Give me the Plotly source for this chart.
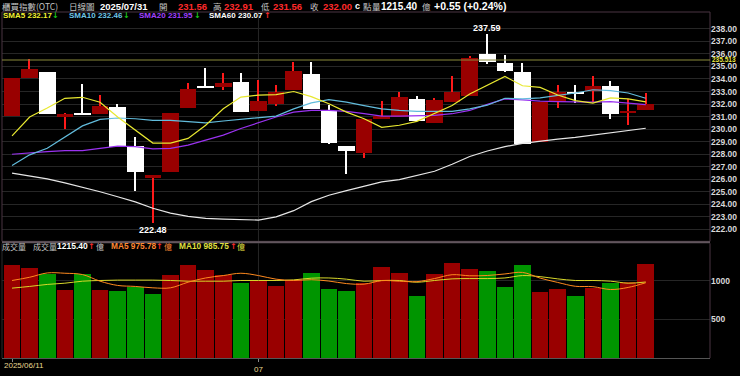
import plotly.graph_objects as go
from plotly.subplots import make_subplots

# ---------------- data ----------------
dates = ["2025/06/11", "2025/06/12", "2025/06/13", "2025/06/16", "2025/06/17", "2025/06/18",
         "2025/06/19", "2025/06/20", "2025/06/23", "2025/06/24", "2025/06/25", "2025/06/26",
         "2025/06/27", "2025/06/30", "2025/07/01", "2025/07/02", "2025/07/03", "2025/07/04",
         "2025/07/07", "2025/07/08", "2025/07/09", "2025/07/10", "2025/07/11", "2025/07/14",
         "2025/07/15", "2025/07/16", "2025/07/17", "2025/07/18", "2025/07/21", "2025/07/22",
         "2025/07/23", "2025/07/24", "2025/07/25", "2025/07/28", "2025/07/29", "2025/07/30",
         "2025/07/31"]

opens = [231.02, 234.04, 234.56, 231.00, 231.25, 231.20, 231.76, 228.63, 226.10, 226.60,
         231.68, 233.35, 233.35, 233.72, 231.41, 232.00, 233.14, 234.43, 231.41, 228.68,
         228.08, 230.78, 230.97, 232.41, 230.52, 232.20, 232.62, 236.03, 235.24, 234.59,
         229.00, 232.15, 232.94, 233.07, 233.41, 231.36, 231.56]
highs = [234.10, 235.56, 234.56, 231.30, 233.60, 232.72, 232.00, 229.40, 226.35, 231.31,
         233.67, 234.90, 234.46, 234.46, 233.93, 233.51, 235.37, 235.37, 231.94, 228.68,
         230.83, 232.28, 233.00, 232.67, 232.46, 234.20, 235.87, 237.59, 235.95, 235.30,
         232.15, 233.51, 233.54, 234.20, 233.85, 232.41, 232.91]
lows = [231.02, 234.04, 231.17, 230.00, 231.15, 231.20, 228.58, 225.10, 222.48, 226.60,
        231.68, 233.30, 233.14, 231.36, 231.41, 231.83, 233.14, 231.62, 228.80, 226.43,
        227.69, 230.78, 230.97, 230.62, 230.52, 232.20, 232.62, 235.17, 234.56, 228.79,
        229.00, 231.68, 232.07, 232.15, 230.83, 230.36, 231.56]
closes = [234.04, 234.83, 231.17, 231.23, 231.20, 231.85, 228.58, 226.56, 226.32, 231.31,
          233.20, 233.30, 233.70, 231.36, 232.28, 232.94, 234.64, 231.62, 228.92, 228.26,
          230.83, 231.04, 232.54, 230.62, 232.35, 232.94, 235.69, 235.35, 234.64, 228.79,
          232.15, 232.99, 232.85, 233.46, 231.17, 231.45, 232.00]

sma5 = [229.47, 230.97, 231.68, 232.46, 232.54, 232.15, 230.97, 229.91, 228.89, 228.89,
        229.26, 230.31, 231.62, 232.56, 232.72, 232.75, 233.00, 232.59, 232.02, 231.36,
        230.83, 230.15, 230.31, 230.62, 231.23, 231.88, 232.80, 233.48, 234.20, 233.46,
        233.33, 232.72, 232.28, 232.07, 232.49, 232.41, 232.17]
sma10 = [227.11, 227.95, 228.47, 229.39, 230.26, 230.78, 230.89, 230.83, 230.70, 230.70,
         230.62, 230.50, 230.65, 230.78, 230.89, 231.04, 231.62, 232.09, 232.35, 232.15,
         231.88, 231.62, 231.49, 231.41, 231.41, 231.41, 231.62, 231.91, 232.46, 232.41,
         232.49, 232.67, 232.88, 233.14, 233.07, 232.88, 232.46]
sma20 = [228.00, 228.13, 228.21, 228.29, 228.29, 228.47, 228.65, 228.60, 228.42, 228.47,
         228.73, 229.13, 229.52, 230.05, 230.52, 230.97, 231.36, 231.49, 231.49, 231.41,
         231.23, 231.04, 231.04, 231.04, 231.10, 231.23, 231.49, 231.98, 232.41, 232.33,
         232.23, 232.20, 232.15, 232.15, 232.20, 232.07, 231.95]
sma60 = [226.50, 226.29, 226.03, 225.72, 225.38, 225.01, 224.61, 224.20, 223.69, 223.30,
         223.04, 222.88, 222.83, 222.78, 222.75, 223.00, 223.50, 224.22, 224.73, 225.10,
         225.44, 225.80, 225.98, 226.30, 226.64, 227.20, 227.82, 228.26, 228.60, 228.87,
         229.05, 229.20, 229.34, 229.52, 229.70, 229.89, 230.07]

volumes = [1197, 1167, 1090, 877, 1082, 877, 868, 919, 821, 1077,
           1201, 1133, 1069, 974, 996, 932, 1005, 1099, 897, 864,
           970, 1176, 1099, 804, 1082, 1231, 1154, 1124, 919, 1201,
           846, 897, 804, 910, 970, 978, 1215.40]
vol_up = [1, 1, 0, 1, 0, 1, 0, 0, 0, 1, 1, 1, 1, 0, 1, 1, 1, 0, 0, 0,
          1, 1, 1, 0, 1, 1, 1, 0, 0, 0, 1, 1, 0, 1, 0, 1, 1]
vma5 = [1005, 1047, 1103, 1099, 1082, 996, 941, 928, 910, 910,
        983, 1038, 1069, 1099, 1069, 1022, 1005, 1015, 998, 965,
        958, 1003, 996, 990, 1030, 1080, 1066, 1070, 1090, 1110,
        1036, 980, 930, 925, 888, 915, 975.78]
vma10 = [906, 928, 954, 970, 996, 1005, 1010, 1010, 1010, 1005,
         996, 996, 996, 1005, 1005, 1005, 1013, 1035, 1038, 1022,
         996, 1005, 1005, 983, 1005, 1026, 1030, 1030, 1038, 1069,
         1055, 1026, 1005, 1005, 996, 970, 985.75]

ref_level = 235.513
tick_idx = [0, 14]
tick_text = ["", "07"]
first_label = "2025/06/11"
price_ticks = list(range(222, 239))
vol_ticks = [500, 1000]

# ---------------- styling ----------------
CJK = "Noto Sans CJK TC"
NUM = "Liberation Sans"
ARW = "DejaVu Sans"
UP_BODY, UP_WICK = "#990000", "#ff1a1a"
DN_BODY, DN_WICK = "#ffffff", "#ffffff"
VOL_RED, VOL_GREEN = "#990000", "#009500"
GRID = "#262626"

n = len(closes)
x = list(range(n))
up = [c >= o for o, c in zip(opens, closes)]

fig = make_subplots(rows=2, cols=1, shared_xaxes=True)

# wicks (bars so that bodies cover them)
fig.add_trace(go.Bar(
    x=x, y=[h - l for h, l in zip(highs, lows)], base=lows, width=0.08,
    marker=dict(color=[UP_WICK if u else DN_WICK for u in up], line=dict(width=0)),
    hoverinfo="skip"), row=1, col=1)
# bodies
fig.add_trace(go.Bar(
    x=x, y=[max(abs(c - o), 0.1) for o, c in zip(opens, closes)],
    base=[min(o, c) for o, c in zip(opens, closes)], width=0.94,
    marker=dict(color=[UP_BODY if u else DN_BODY for u in up], line=dict(width=0)),
    hoverinfo="skip"), row=1, col=1)

for arr, col in [(sma60, "#e6e6e6"), (sma20, "#9a32f0"), (sma10, "#62bcdc"), (sma5, "#e8e830")]:
    fig.add_trace(go.Scatter(x=x, y=arr, mode="lines", line=dict(color=col, width=1.2),
                             hoverinfo="skip"), row=1, col=1)

# volume
fig.add_trace(go.Bar(
    x=x, y=volumes, width=0.94,
    marker=dict(color=[VOL_RED if v else VOL_GREEN for v in vol_up], line=dict(width=0)),
    hoverinfo="skip"), row=2, col=1)
fig.add_trace(go.Scatter(x=x, y=vma10, mode="lines", line=dict(color="#d8d82a", width=1, shape="spline"),
                         hoverinfo="skip"), row=2, col=1)
fig.add_trace(go.Scatter(x=x, y=vma5, mode="lines", line=dict(color="#ff8a1e", width=1, shape="spline"),
                         hoverinfo="skip"), row=2, col=1)

# ---------------- layout ----------------
ML, MR, MT, MB = 2, 30, 12, 14
W, H = 740, 376
PW, PH = W - ML - MR, H - MT - MB


def px2x(px):
    return (px - ML) / PW


def py2y(py):
    return (H - MB - py) / PH


price_dom = [py2y(244), 1]
vol_dom = [0, py2y(246)]
xr = [-0.57, 39.65]
tickfont = dict(family=NUM, size=8.5, color="#d8d8d8", weight="bold")

fig.update_layout(
    width=W, height=H, margin=dict(l=ML, r=MR, t=MT, b=MB),
    paper_bgcolor="#000000", plot_bgcolor="#000000",
    barmode="overlay", bargap=0, showlegend=False,
    font=dict(family=NUM, color="#cccccc"),
    xaxis=dict(domain=[0, 1], range=xr, showticklabels=False, showgrid=False, zeroline=False,
               tickvals=[tick_idx[1]], ticks=""),
    xaxis2=dict(domain=[0, 1], range=xr, tickvals=tick_idx, ticktext=tick_text, ticks="outside",
                ticklen=3, tickcolor="#888888", showgrid=False, zeroline=False, showline=True,
                linecolor="#555555", linewidth=1,
                tickfont=dict(family=NUM, size=8, color="#e8d890")),
    yaxis=dict(domain=price_dom, range=[221.054, 239.34], side="right", tickvals=price_ticks,
               ticktext=[f"{t:.2f}" for t in price_ticks], showgrid=True, gridcolor=GRID,
               gridwidth=1, zeroline=False, ticks="", automargin=False, tickfont=tickfont),
    yaxis2=dict(domain=vol_dom, range=[0, 1487], side="right", tickvals=vol_ticks,
                ticktext=[str(t) for t in vol_ticks], showgrid=True, gridcolor=GRID,
                zeroline=False, ticks="", automargin=False, tickfont=tickfont),
)

# vertical month grid line in both panels
for yref in ["y", "y2"]:
    fig.add_shape(type="line", xref="x", yref=f"{yref} domain", x0=tick_idx[1], x1=tick_idx[1],
                  y0=0, y1=1, line=dict(color=GRID, width=1), layer="below")

# panel frames
fig.add_shape(type="rect", xref="paper", yref="paper", x0=0, x1=1, y0=price_dom[0], y1=1,
              line=dict(color="#4a3542", width=1))
fig.add_shape(type="line", xref="paper", yref="paper", x0=0, x1=1, y0=py2y(244.8), y1=py2y(244.8),
              line=dict(color="#62565e", width=2))
fig.add_shape(type="line", xref="paper", yref="paper", x0=1, x1=1, y0=0, y1=vol_dom[1],
              line=dict(color="#4a3542", width=1))
fig.add_shape(type="line", xref="paper", yref="paper", x0=0, x1=0, y0=0, y1=vol_dom[1],
              line=dict(color="#2a2a2a", width=1))

# reference line
fig.add_shape(type="line", xref="paper", yref="y", x0=0, x1=1, y0=ref_level, y1=ref_level,
              line=dict(color="#8a8a3a", width=1))
fig.add_annotation(xref="paper", yref="y", x=px2x(711), y=ref_level, xanchor="left",
                   yanchor="middle", text=f"{ref_level:.3f}", showarrow=False, yshift=1,
                   borderpad=0, font=dict(family=NUM, size=6.5, color="#e8e840", weight="bold"))

# high / low labels
hi_i = max(range(n), key=lambda i: highs[i])
lo_i = min(range(n), key=lambda i: lows[i])
fig.add_annotation(x=hi_i, y=highs[hi_i], xref="x", yref="y", text=f"{highs[hi_i]:.2f}",
                   showarrow=False, yanchor="bottom", yshift=-1,
                   font=dict(family=NUM, size=9, color="#ffffff", weight="bold"))
fig.add_annotation(x=lo_i, y=lows[lo_i], xref="x", yref="y", text=f"{lows[lo_i]:.2f}",
                   showarrow=False, yanchor="top", yshift=0,
                   font=dict(family=NUM, size=9, color="#ffffff", weight="bold"))


def ann(px, py, text, color, size=8, bold=False, family=NUM):
    fig.add_annotation(xref="paper", yref="paper", x=px2x(px), y=py2y(py), xanchor="left",
                       yanchor="middle", text=text, showarrow=False, borderpad=0,
                       font=dict(family=family, size=size, color=color,
                                 weight="bold" if bold else "normal"))


GRAY = "#c4c4c4"
RED = "#ff2a2a"
GREENA = "#19c819"


def arrow(px, py, cur, prev):
    if cur >= prev:
        ann(px, py, "↑", RED, 8, True, ARW)
    else:
        ann(px, py, "↓", GREENA, 8, True, ARW)


# header line 1
chg = closes[-1] - closes[-2]
pct = chg / closes[-2] * 100
ann(1, 6, "櫃買指數(OTC)", GRAY, 8.5, family=CJK)
ann(68, 6, "日線圖", GRAY, 8.5, family=CJK)
ann(99, 6, dates[-1], "#ffffff", 9.5, True)
ann(158, 6, "開", GRAY, 8.5, family=CJK)
ann(177, 6, f"{opens[-1]:.2f}", RED, 9.5, True)
ann(212, 6, "高", GRAY, 8.5, family=CJK)
ann(223, 6, f"{highs[-1]:.2f}", RED, 9.5, True)
ann(260, 6, "低", GRAY, 8.5, family=CJK)
ann(272, 6, f"{lows[-1]:.2f}", RED, 9.5, True)
ann(309, 6, "收", GRAY, 8.5, family=CJK)
ann(322, 6, f"{closes[-1]:.2f}", RED, 9.5, True)
ann(354, 6, "c", "#ffffff", 9, True)
ann(362, 6, "點", GRAY, 8.5, family=CJK)
ann(371, 6, "量", GRAY, 8.5, family=CJK)
ann(380, 6, f"{volumes[-1]:.2f}", "#ffffff", 10, True)
ann(421, 6, "億", GRAY, 8.5, family=CJK)
ann(433, 6, f"{chg:+.2f} ({pct:+.2f}%)", "#ffffff", 10.5, True)

# header line 2 (moving averages)
ann(2, 16, f"SMA5 {sma5[-1]:.2f}", "#f0f032", 8, True)
arrow(51, 16, sma5[-1], sma5[-2])
ann(68, 16, f"SMA10 {sma10[-1]:.2f}", "#6ec6e6", 8, True)
arrow(122, 16, sma10[-1], sma10[-2])
ann(138, 16, f"SMA20 {sma20[-1]:.2f}", "#a040ff", 8, True)
arrow(193, 16, sma20[-1], sma20[-2])
ann(208, 16, f"SMA60 {sma60[-1]:.2f}", "#ffffff", 8, True)
arrow(263, 16, sma60[-1], sma60[-2])

# volume header
ann(1, 249, "成交量", GRAY, 8, family=CJK)
ann(32, 249, "成交量", GRAY, 8, family=CJK)
ann(56, 249, f"{volumes[-1]:.2f}", "#ffffff", 8.5, True)
arrow(87, 249, volumes[-1], volumes[-2])
ann(95, 249, "億", GRAY, 8, family=CJK)
ann(110, 249, f"MA5 {vma5[-1]:.2f}", "#ff8833", 8.3, True)
arrow(155, 249, vma5[-1], vma5[-2])
ann(163, 249, "億", "#ff8833", 8, family=CJK)
ann(178, 249, f"MA10 {vma10[-1]:.2f}", "#e0e040", 8.3, True)
arrow(229, 249, vma10[-1], vma10[-2])
ann(236, 249, "億", "#e0e040", 8, family=CJK)

# first date label (left aligned under the first tick)
ann(3, 370, first_label, "#e8d890", 8)

fig.write_html("out.html")
